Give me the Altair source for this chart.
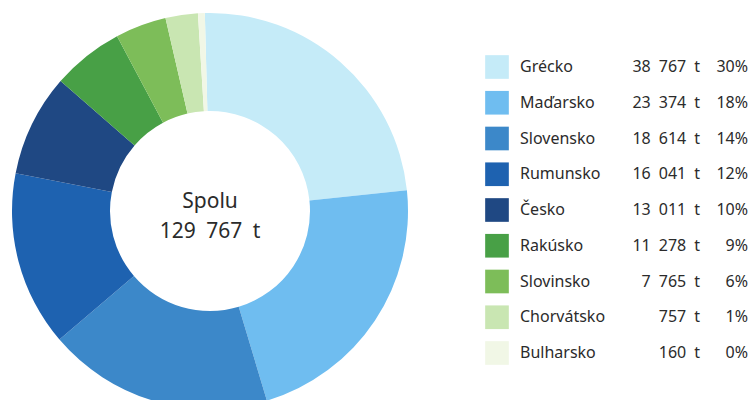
import math
import altair as alt
import pandas as pd

# ---- data ----
countries = ["Grécko", "Maďarsko", "Slovensko", "Rumunsko", "Česko",
             "Rakúsko", "Slovinsko", "Chorvátsko", "Bulharsko"]
tonnes = [38767, 23374, 18614, 16041, 13011, 11278, 7765, 757, 160]
percents = [30, 18, 14, 12, 10, 9, 6, 1, 0]
# slice sizes as drawn in the reference picture (degrees of the ring)
drawn_deg = [85.5, 79.3, 66.2, 51.5, 30.0, 21.0, 15.0, 9.5, 2.0]
total_label = ["Spolu", "129 767 t"]

colors = ["#c5ebf8", "#6fbdf0", "#3c88c9", "#1e62b0", "#1f4883",
          "#48a046", "#7dbd59", "#c9e6b2", "#f1f7e6"]

FONT = "Noto Sans"
TXT = "#2b2b2b"
EN = "\u2002"


def fmt_t(v):
    s = f"{v:,}".replace(",", EN)
    return s + EN + "t"


df = pd.DataFrame({
    "country": countries,
    "tonnes": tonnes,
    "pct": percents,
    "drawn": drawn_deg,
    "order": list(range(len(countries))),
    "t_label": [fmt_t(v) for v in tonnes],
    "p_label": [f"{p}%" for p in percents],
})

start = math.radians(-1.5)
color = alt.Color("country:N", scale=alt.Scale(domain=countries, range=colors), legend=None)
row = alt.Y("country:N", sort=countries,
            scale=alt.Scale(range=[59, 345], padding=0), axis=None)

base = alt.Chart(df)

donut = base.mark_arc(innerRadius=100, outerRadius=198).encode(
    theta=alt.Theta("drawn:Q", stack=True,
                    scale=alt.Scale(range=[start, start + 2 * math.pi])),
    color=color,
    order=alt.Order("order:Q"),
    x=alt.value(202),
    y=alt.value(203),
)

center = alt.Chart(pd.DataFrame({"t": ["\n".join([total_label[0], total_label[1].replace(" ", EN)])]})).mark_text(
    font=FONT, fontSize=21, color=TXT, align="center", baseline="alphabetic",
    lineBreak="\n", lineHeight=30,
).encode(text="t:N", x=alt.value(202), y=alt.value(200))

swatch = base.mark_square(size=560, opacity=1, filled=True).encode(
    x=alt.value(489), y=row, color=color)

names = base.mark_text(font=FONT, fontSize=16, color=TXT, align="left",
                       baseline="middle").encode(
    x=alt.value(512), y=row, text="country:N")

vals = base.mark_text(font=FONT, fontSize=16, color=TXT, align="right",
                      baseline="middle").encode(
    x=alt.value(692), y=row, text="t_label:N")

pcts = base.mark_text(font=FONT, fontSize=16, color=TXT, align="right",
                      baseline="middle").encode(
    x=alt.value(740), y=row, text="p_label:N")

chart = alt.layer(donut, center, swatch, names, vals, pcts).properties(
    width=740, height=392, padding=0,
    autosize=alt.AutoSizeParams(type="none"),
).configure_view(stroke=None)

chart.save("out.html", embed_options={"renderer": "svg", "actions": False})
